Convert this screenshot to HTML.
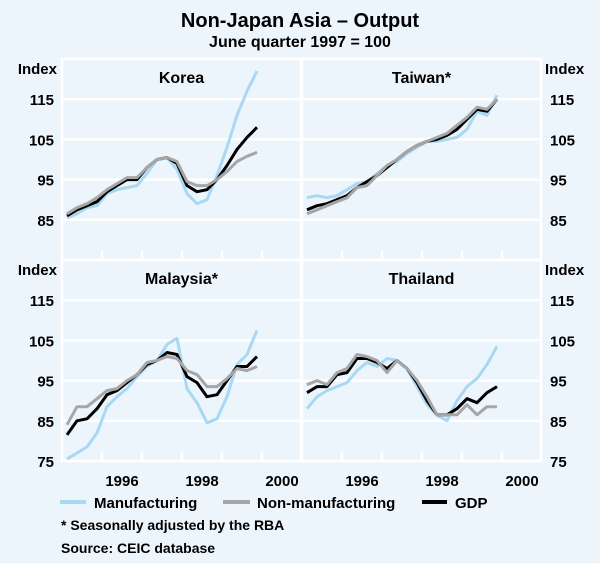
<!DOCTYPE html>
<html><head><meta charset="utf-8"><style>
body{margin:0;background:#edf5fc;}
svg{display:block;font-family:"Liberation Sans",sans-serif;font-weight:bold;}
</style></head><body>
<svg id="c" width="600" height="563" viewBox="0 0 600 563">
<rect x="0" y="0" width="600" height="563" fill="#edf5fc"/>
<text x="300" y="27" font-size="20" text-anchor="middle">Non-Japan Asia – Output</text>
<text x="300" y="47" font-size="16" text-anchor="middle">June quarter 1997 = 100</text>
<g id="plots"></g>
<g>
<line x1="60" y1="502" x2="86" y2="502" stroke="#a8d8f4" stroke-width="4"/>
<text x="94" y="508" font-size="15">Manufacturing</text>
<line x1="223" y1="502" x2="250" y2="502" stroke="#a6a6a6" stroke-width="4"/>
<text x="257" y="508" font-size="15">Non-manufacturing</text>
<line x1="422" y1="502" x2="447" y2="502" stroke="#000" stroke-width="4"/>
<text x="455" y="508" font-size="15">GDP</text>
</g>
<text x="61" y="530" font-size="14">* Seasonally adjusted by the RBA</text>
<text x="61" y="553" font-size="14">Source: CEIC database</text>
</svg>
<script>
const koreaManuf=[85.5,86.5,88,88.5,91.5,92.5,93,93.5,96.5,100,100.5,97.5,91.5,89,90,96,103,111,117,122];
const koreaGdp=[86,87.5,88.5,89.5,92,93.5,95,95,98,100,100.5,99,93.5,92,92.5,95,98.5,102.5,105.5,108];
const koreaNon=[86.5,88,89,90.5,92.5,94,95.5,95.5,98,100,100.5,99.5,94.5,93.5,93.5,95,97,99.5,100.8,101.8];
const taiwanManuf=[90.5,91,90.5,91,92.5,94,94.5,96.5,98.5,99.5,101.5,103,104.5,104.5,105,105.5,107.5,112,111,116];
const taiwanGdp=[87.5,88.5,89,90,91,93,94.5,96,98,100,102,103.5,104.5,105,106,107.5,110,112.5,112,115];
const taiwanNon=[86.5,87.5,88.5,89.5,90.5,93,93.5,96,98.5,100,102,103.5,104.5,105.5,106.5,108.5,110.5,113,112.5,115];
const malaysiaManuf=[75.5,77,78.5,82,88.5,91,93,96,98.5,100,104,105.5,93,89.5,84.5,85.5,91,99,101.5,107.5];
const malaysiaGdp=[81.5,85,85.5,88,91.5,92.5,94.5,96.5,99,100,102,101.5,96,94.5,91,91.5,95,98.5,98.5,101];
const malaysiaNon=[84,88.5,88.5,90.5,92.5,93,95,96.5,99.5,100,101,100.5,97.5,96.5,93.5,93.5,95.5,98,97.5,98.5];
const thaiManuf=[88,91,92.5,93.5,94.5,97.5,99.5,98.5,100.5,100,98,93.5,89,86.5,85,90,93.5,95.5,99,103.5];
const thaiGdp=[92,93.5,93.5,96.5,97,100.5,100.5,99.5,98,100,98,94.5,90,86.5,86.5,88,90.5,89.5,92,93.5];
const thaiNon=[94,95,94,97,98,101.5,101,100,97,100,98,95,91,86.5,86.5,86.5,89,86.5,88.5,88.5];
const yTicks=[85,95,105,115];
const yTicksBottom=[75,85,95,105,115];
const yearLabels=["1996","1998","2000"];
const yearLabelPos=[1996.5,1998.5,2000.5];
const tickYears=[1996,1997,1998,1999,2000];

const NS="http://www.w3.org/2000/svg";
const g=document.getElementById('plots');
function mk(t,a){const e=document.createElementNS(NS,t);for(const k in a)e.setAttribute(k,a[k]);return e;}
const panels=[
 {name:'korea',title:'Korea',x0:62,y0:59,m:koreaManuf,gd:koreaGdp,n:koreaNon,side:'left',bottom:false},
 {name:'taiwan',title:'Taiwan*',x0:302,y0:59,m:taiwanManuf,gd:taiwanGdp,n:taiwanNon,side:'right',bottom:false},
 {name:'malaysia',title:'Malaysia*',x0:62,y0:260,m:malaysiaManuf,gd:malaysiaGdp,n:malaysiaNon,side:'left',bottom:true},
 {name:'thailand',title:'Thailand',x0:302,y0:260,m:thaiManuf,gd:thaiGdp,n:thaiNon,side:'right',bottom:true}
];
const W=239,H=201;
panels.forEach(p=>{
 const xs=t=>p.x0+(t-1995)*40;
 const ys=v=>p.y0+(125-v)*H/50;
 const xi=i=>p.x0+5+i*10;
 const pg=mk('g',{});
 
 
 g.appendChild(pg);
 const fr=mk('rect',{x:p.x0,y:p.y0,width:W,height:H,fill:'none',stroke:'#fff','stroke-width':2.5});
 
 
 pg.appendChild(fr);
 [85,95,105,115].forEach(v=>{
  const l=mk('line',{x1:p.x0,x2:p.x0+W,y1:ys(v),y2:ys(v),stroke:'#fff','stroke-width':2.5});
  
  
  pg.appendChild(l);
 });
 tickYears.forEach(yr=>{
  const l=mk('line',{x1:xs(yr),x2:xs(yr),y1:p.y0+H,y2:p.y0+H-9,stroke:'#fff','stroke-width':2.5});
  
  
  pg.appendChild(l);
 });
 const tt=mk('text',{x:p.x0+W/2,y:p.y0+24,'font-size':16,'text-anchor':'middle'});
 tt.textContent=p.title;
 
 
 pg.appendChild(tt);
 const ticks=p.bottom?yTicksBottom:yTicks;
 const ax=p.side==='left'?{x:56,a:'end'}:{x:548,a:'start'};
 const it=mk('text',{x:p.side==='left'?57:545,y:p.y0+15,'font-size':15,'text-anchor':ax.a});
 it.textContent='Index';
 
 
 pg.appendChild(it);
 ticks.forEach(v=>{
  const t=mk('text',{x:ax.x-(p.side==='left'?2:-2),y:ys(v)+6,'font-size':15,'text-anchor':ax.a});
  t.textContent=String(v);
  
  
  pg.appendChild(t);
 });
 if(p.bottom){
  yearLabels.forEach((lb,i)=>{
   const t=mk('text',{x:xs(yearLabelPos[i]),y:486,'font-size':15,'text-anchor':'middle'});
   t.textContent=lb;
   
   
   pg.appendChild(t);
  });
 }
 [['manufacturing',p.m,'#a8d8f4'],['gdp',p.gd,'#000'],['non-manufacturing',p.n,'#a6a6a6']].forEach(s=>{
  const d=s[1].map((v,i)=>(i?'L':'M')+xi(i).toFixed(1)+','+ys(v).toFixed(1)).join('');
  const path=mk('path',{d:d,fill:'none',stroke:s[2],'stroke-width':3,'stroke-linejoin':'round'});
  
  
  pg.appendChild(path);
 });
});
</script>
</body></html>
